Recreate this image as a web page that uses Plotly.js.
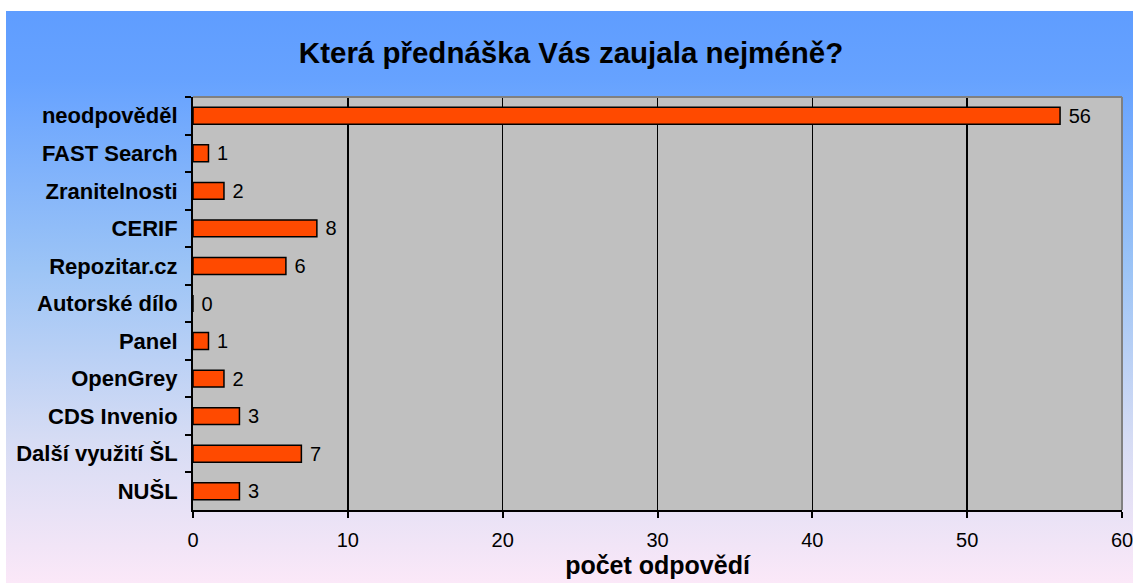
<!DOCTYPE html>
<html>
<head>
<meta charset="utf-8">
<script src="https://cdn.plot.ly/plotly-3.0.1.min.js"></script>
<style>
  html, body { margin: 0; padding: 0; background: #ffffff; }
  #wrap { position: relative; width: 1133px; height: 583px; background: #ffffff; }
  #bg { position: absolute; left: 6px; top: 11px; width: 1127px; height: 572px;
        background: linear-gradient(to bottom, #5f9dff 0%, #66a2ff 12%, #9cc4f6 45%, #d6dcf4 75%, #fbe8f8 100%); }
  #chart { position: absolute; left: 0; top: 0; width: 1133px; height: 583px; }
</style>
</head>
<body>
<div id="wrap"><div id="bg"></div><div id="chart"></div></div>
<script>
const categories = ["neodpověděl", "FAST Search", "Zranitelnosti", "CERIF", "Repozitar.cz",
  "Autorské dílo", "Panel", "OpenGrey", "CDS Invenio", "Další využití ŠL", "NUŠL"];
const counts = [56, 1, 2, 8, 6, 0, 1, 2, 3, 7, 3];
const xTicks = [0, 10, 20, 30, 40, 50, 60];
const chartTitle = "Která přednáška Vás zaujala nejméně?";
const xTitle = "počet odpovědí";

const font = "Liberation Sans, Arial, sans-serif";

const trace = {
  type: "bar",
  orientation: "h",
  y: categories,
  x: counts,
  width: 0.45,
  marker: { color: "#ff4a00", line: { color: "#000000", width: 1.5 } },
  texttemplate: "\u00a0%{x}",
  textposition: "outside",
  constraintext: "none",
  cliponaxis: false,
  textfont: { family: font, size: 20, color: "#000000" },
  hoverinfo: "skip"
};

const layout = {
  width: 1133, height: 583,
  margin: { l: 193, r: 11, t: 97, b: 73, pad: 0 },
  paper_bgcolor: "rgba(0,0,0,0)",
  plot_bgcolor: "#c0c0c0",
  showlegend: false,
  title: { text: "<b>" + chartTitle + "</b>", font: { family: font, size: 29.5, color: "#000000" },
           x: 0.504, xanchor: "center", y: 0.91, yanchor: "middle" },
  xaxis: {
    range: [0, 60], tickvals: xTicks, ticktext: xTicks.map(String),
    showgrid: true, gridcolor: "#000000", gridwidth: 1.5,
    zeroline: false, showline: true, linecolor: "#000000", linewidth: 2,
    ticks: "outside", ticklen: 6, tickcolor: "#000000", tickwidth: 2,
    ticklabelstandoff: 5, ticklabeloverflow: "allow",
    tickfont: { family: font, size: 20, color: "#000000" },
    title: { text: "<b>" + xTitle + "</b>", font: { family: font, size: 25, color: "#000000" }, standoff: 2 },
    fixedrange: true
  },
  yaxis: {
    type: "category", autorange: "reversed",
    showgrid: false, zeroline: false, showline: true, linecolor: "#000000", linewidth: 2,
    ticks: "outside", tickson: "boundaries", ticklen: 6, tickcolor: "#000000", tickwidth: 2,
    ticklabelstandoff: 9,
    tickfont: { family: font, size: 22, color: "#000000", weight: "bold" },
    fixedrange: true
  },
  bargap: 0.55,
  shapes: [
    { type: "line", xref: "paper", yref: "paper", x0: 0, x1: 1, y0: 1, y1: 1,
      line: { color: "#808080", width: 2 }, layer: "above" },
    { type: "line", xref: "paper", yref: "paper", x0: 1, x1: 1, y0: 0, y1: 1,
      line: { color: "#808080", width: 2 }, layer: "above" }
  ]
};

Plotly.newPlot("chart", [trace], layout, { displayModeBar: false, staticPlot: true });
</script>
</body>
</html>
